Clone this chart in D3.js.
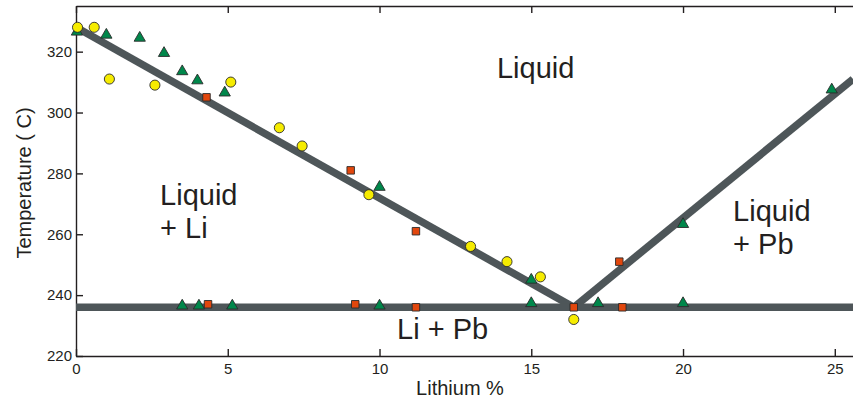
<!DOCTYPE html>
<html>
<head>
<meta charset="utf-8">
<script src="https://cdn.jsdelivr.net/npm/d3@7"></script>
<style>
  body { margin: 0; background: #fff; }
  text { font-family: "Liberation Sans", Arial, sans-serif; fill: #231f20; }
</style>
</head>
<body>
<div id="chart"></div>
<script>
// measured points, Lithium % vs temperature (C)
var circles = [
  [0.05, 328], [0.6, 328], [1.1, 311], [2.6, 309], [5.1, 310], [6.7, 295],
  [7.45, 289], [9.65, 273], [13.0, 256], [14.2, 251], [15.3, 246], [16.4, 232]
];
var triangles = [
  [0.03, 326.5], [1.0, 325.5], [2.1, 324.5], [2.9, 319.5], [3.5, 313.5],
  [4.0, 310.5], [4.9, 306.5], [10.0, 275.5], [15.0, 245],
  [3.5, 236.5], [4.05, 236.5], [5.15, 236.5], [10.0, 236.5],
  [15.0, 237.3], [17.2, 237.3], [20.0, 237.3], [20.0, 263.3], [24.9, 307.5]
];
var squares = [
  [4.3, 305], [9.05, 281], [11.2, 261], [4.35, 237], [9.2, 237],
  [11.2, 236], [16.4, 236], [18.0, 236], [17.9, 251]
];

// phase boundaries
var liquidusLi = [[0, 328], [16.4, 236]];
var liquidusPb = [[16.4, 236], [25.6, 311]];
var eutectic = [[0, 236], [25.6, 236]];

// region labels (data coords of first baseline)
var regions = [
  { x: 13.87, t: 311.4, lines: ["Liquid"] },
  { x: 2.77, t: 269.6, lines: ["Liquid", "+ Li"] },
  { x: 21.65, t: 264.4, lines: ["Liquid", "+ Pb"] },
  { x: 10.58, t: 225.6, lines: ["Li + Pb"] }
];

var xTicks = [0, 5, 10, 15, 20, 25];
var yTicks = [220, 240, 260, 280, 300, 320];

const W = 853, H = 401;
const margin = { top: 6, right: 0, bottom: 45, left: 76 };
const width = W - margin.left - margin.right;
const height = H - margin.top - margin.bottom;

var svg = d3.select("#chart")
  .append("svg")
    .attr("width", W)
    .attr("height", H)
  .append("g")
    .attr("transform", "translate(" + margin.left + "," + margin.top + ")");

var x = d3.scaleLinear().domain([0, 25.6]).range([0, width]);
var y = d3.scaleLinear().domain([220, 335]).range([height, 0]);

svg.append("clipPath").attr("id", "clip")
  .append("rect").attr("width", width).attr("height", height);

// axes
var gx = svg.append("g")
  .attr("transform", "translate(0," + height + ")")
  .call(d3.axisBottom(x).tickValues(xTicks).tickSize(-7).tickSizeOuter(0).tickPadding(7));
var gTop = svg.append("g")
  .call(d3.axisTop(x).tickValues(xTicks).tickSize(-7).tickSizeOuter(0).tickFormat(""));
var gy = svg.append("g")
  .call(d3.axisLeft(y).tickValues(yTicks).tickSize(-7).tickSizeOuter(0).tickPadding(4));

[gx, gTop, gy].forEach(function(g) {
  g.selectAll("path, line").attr("stroke", "#231f20").attr("stroke-width", 1.4);
  g.selectAll("text").style("font-size", "15px").attr("fill", "#231f20");
});

// boundaries
var line = d3.line().x(function(d) { return x(d[0]); }).y(function(d) { return y(d[1]); });
var plot = svg.append("g").attr("clip-path", "url(#clip)");
[liquidusLi, liquidusPb, eutectic].forEach(function(seg) {
  plot.append("path")
    .attr("d", line(seg))
    .attr("fill", "none")
    .attr("stroke", "#4e5659")
    .attr("stroke-width", 7.5)
    .attr("stroke-linejoin", "miter");
});

// markers
function drawPoints(data, type, size, color) {
  svg.append("g").selectAll("path")
    .data(data)
    .enter()
    .append("path")
      .attr("transform", function(d) { return "translate(" + x(d[0]) + "," + y(d[1]) + ")"; })
      .attr("d", d3.symbol().type(type).size(size))
      .attr("fill", color)
      .attr("stroke", "#2a2a2a")
      .attr("stroke-width", 0.9);
}
drawPoints(triangles, d3.symbolTriangle, 55, "#00874b");
drawPoints(squares, d3.symbolSquare, 56, "#e2470d");
drawPoints(circles, d3.symbolCircle, 80, "#f6ec00");

// region labels
regions.forEach(function(r) {
  var t = svg.append("text")
    .attr("x", x(r.x))
    .attr("y", y(r.t))
    .style("font-size", "29px");
  r.lines.forEach(function(s, i) {
    t.append("tspan")
      .attr("x", x(r.x))
      .attr("dy", i === 0 ? 0 : 33)
      .text(s);
  });
});

// axis titles
svg.append("text")
  .attr("x", 460 - margin.left)
  .attr("y", 395 - margin.top)
  .style("text-anchor", "middle")
  .style("font-size", "20px")
  .text("Lithium %");

svg.append("text")
  .attr("transform", "rotate(-90)")
  .attr("x", -(183 - margin.top))
  .attr("y", 31 - margin.left)
  .style("text-anchor", "middle")
  .style("font-size", "20px")
  .text("Temperature ( C)");
</script>
</body>
</html>
